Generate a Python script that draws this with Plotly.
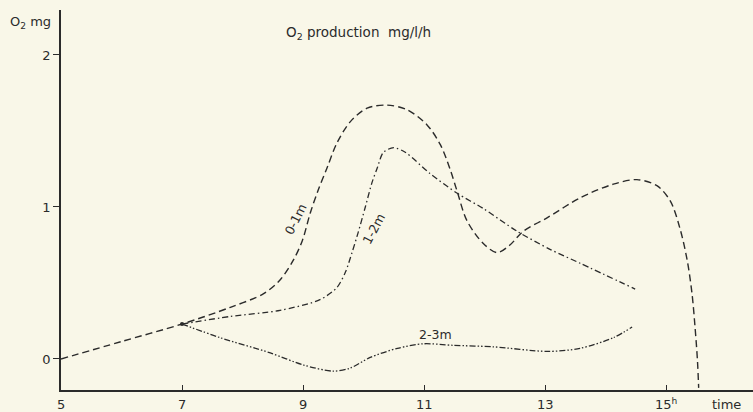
import plotly.graph_objects as go

# ---- data ----
hours_0_1m = [5, 6, 7, 7.80, 8.35, 8.62, 8.84, 8.99, 9.12, 9.25, 9.40, 9.56, 9.78, 10.06,
              10.39, 10.72, 11.05, 11.27, 11.43, 11.55, 11.71, 11.98, 12.21, 12.42, 12.64,
              13.04, 13.58, 14.13, 14.52, 14.85, 15.07, 15.23, 15.35, 15.43, 15.48, 15.52, 15.54]
o2_0_1m = [0, 0.115, 0.23, 0.34, 0.43, 0.52, 0.65, 0.78, 0.96, 1.11, 1.26, 1.42, 1.56, 1.65,
           1.67, 1.64, 1.54, 1.41, 1.25, 1.10, 0.91, 0.76, 0.70, 0.75, 0.84,
           0.93, 1.06, 1.15, 1.18, 1.14, 1.04, 0.86, 0.65, 0.43, 0.21, -0.01, -0.19]

hours_1_2m = [7, 7.80, 8.62, 9.28, 9.56, 9.70, 9.81, 9.91, 10.03, 10.14, 10.23, 10.33, 10.50,
              10.69, 11.1, 11.55, 11.98, 12.54, 13.09, 13.58, 14.49]
o2_1_2m = [0.23, 0.28, 0.32, 0.39, 0.47, 0.57, 0.70, 0.83, 1.00, 1.16, 1.26, 1.36, 1.39,
           1.36, 1.22, 1.09, 0.99, 0.84, 0.72, 0.63, 0.46]

hours_2_3m = [7, 7.63, 8.46, 9.01, 9.5, 9.78, 10.11, 10.56, 10.99, 11.48, 12.15, 13.04,
              13.58, 14.13, 14.44]
o2_2_3m = [0.23, 0.14, 0.04, -0.04, -0.08, -0.06, 0.01, 0.07, 0.10, 0.09, 0.08, 0.05,
           0.07, 0.14, 0.21]

x_tickvals = [5, 7, 9, 11, 13, 15]
x_ticktext = ["5", "7", "9", "11", "13", "15<sup>h</sup>"]
y_tickvals = [0, 1, 2]
y_ticktext = ["0", "1", "2"]

INK = "#2b2b2b"
BG = "#f9f7e8"
FONT = "DejaVu Sans"

X_RANGE = [5, 5 + 692 / 60.5]

fig = go.Figure()
fig.add_trace(go.Scatter(x=hours_0_1m, y=o2_0_1m, mode="lines",
                         line=dict(color=INK, width=1.4, dash="7px,4px", shape="spline", smoothing=0.9),
                         hoverinfo="skip"))
fig.add_trace(go.Scatter(x=hours_1_2m, y=o2_1_2m, mode="lines",
                         line=dict(color=INK, width=1.3, dash="6px,3px,1.5px,3px", shape="spline", smoothing=0.8),
                         hoverinfo="skip"))
fig.add_trace(go.Scatter(x=hours_2_3m, y=o2_2_3m, mode="lines",
                         line=dict(color=INK, width=1.3, dash="6px,2px,1.5px,2px,1.5px,2px", shape="spline", smoothing=0.8),
                         hoverinfo="skip"))
fig.add_trace(go.Scatter(x=[hours_1_2m[0]], y=[o2_1_2m[0]], mode="markers",
                         marker=dict(color=INK, size=4), hoverinfo="skip"))

# x tick labels placed as text just under the axis line
tick_annotations = [
    dict(text=t, x=v, xref="x", yref="paper", y=-0.037, xanchor="center", yanchor="middle",
         showarrow=False, font=dict(size=13))
    for v, t in zip(x_tickvals, x_ticktext)
]

fig.update_layout(
    width=753, height=412,
    margin=dict(l=61, r=0, t=10, b=22),
    paper_bgcolor=BG, plot_bgcolor=BG,
    showlegend=False,
    font=dict(family=FONT, size=13, color=INK),
    xaxis=dict(range=X_RANGE, showgrid=False, zeroline=False,
               showline=True, linecolor=INK, linewidth=2,
               tickvals=x_tickvals, showticklabels=False,
               ticks="inside", ticklen=5, tickcolor=INK, tickwidth=1),
    yaxis=dict(range=[-0.204, 2.296], showgrid=False, zeroline=False,
               showline=True, linecolor=INK, linewidth=1.5,
               tickvals=y_tickvals, ticktext=y_ticktext,
               ticks="outside", ticklen=6, tickcolor=INK, tickwidth=1,
               tickfont=dict(family=FONT, size=13, color=INK)),
    annotations=tick_annotations + [
        dict(text="O<sub>2</sub> mg", xref="paper", yref="paper", x=-0.011, y=0.968,
             xanchor="right", yanchor="middle", showarrow=False, font=dict(size=13)),
        dict(text="O<sub>2</sub> production  mg/l/h", xref="paper", yref="paper", x=0.322, y=0.939,
             xanchor="left", yanchor="middle", showarrow=False, font=dict(size=13.5)),
        dict(text="time", xref="paper", yref="paper", x=0.962, y=-0.037,
             xanchor="center", yanchor="middle", showarrow=False, font=dict(size=13)),
        dict(text="0-1m", x=8.87, y=0.92, textangle=-63, showarrow=False, font=dict(size=12.5)),
        dict(text="1-2m", x=10.17, y=0.86, textangle=-62, showarrow=False, font=dict(size=12.5)),
        dict(text="2-3m", x=11.19, y=0.16, showarrow=False, font=dict(size=12.5)),
    ],
)

fig.write_html(
    "out.html",
    config={"displayModeBar": False},
    post_script="document.body.style.margin='0';document.body.style.padding='0';"
                "document.body.style.background='" + BG + "';",
)
